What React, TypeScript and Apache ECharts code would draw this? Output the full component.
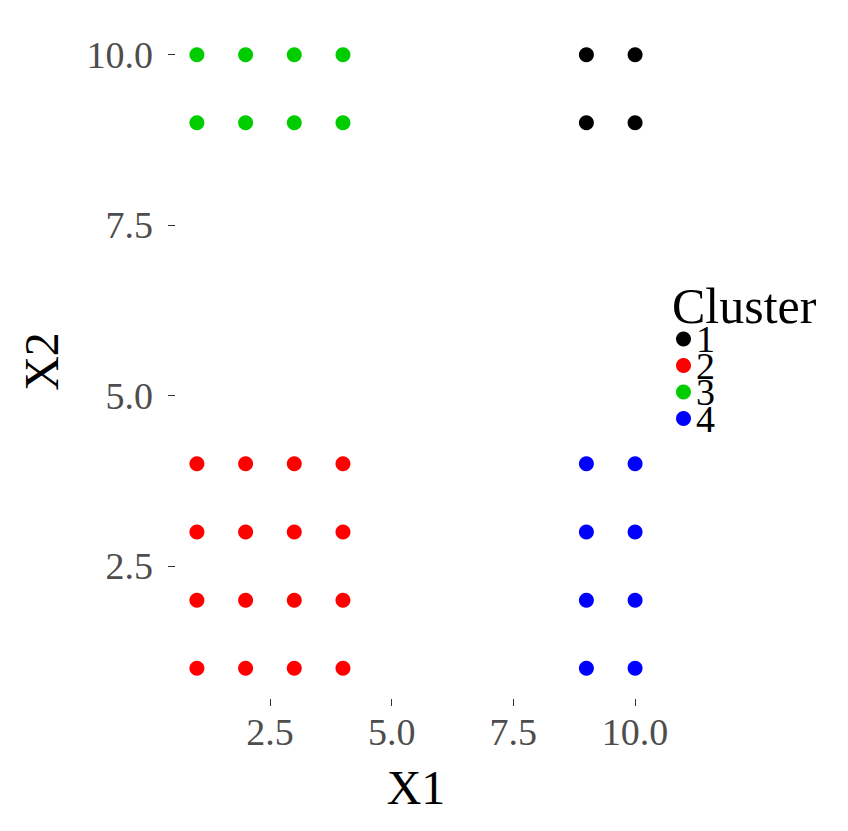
import React, { useEffect, useRef } from "react";
import * as echarts from "echarts";

const clusterNames = ["1", "2", "3", "4"];
const clusterColors = ["#000000", "#ff0000", "#00cd00", "#0000ff"];
const cluster1: number[][] = [[9, 9], [9, 10], [10, 9], [10, 10]];
const cluster2: number[][] = [
  [1, 1], [2, 1], [3, 1], [4, 1],
  [1, 2], [2, 2], [3, 2], [4, 2],
  [1, 3], [2, 3], [3, 3], [4, 3],
  [1, 4], [2, 4], [3, 4], [4, 4],
];
const cluster3: number[][] = [
  [1, 9], [2, 9], [3, 9], [4, 9],
  [1, 10], [2, 10], [3, 10], [4, 10],
];
const cluster4: number[][] = [
  [9, 1], [10, 1], [9, 2], [10, 2],
  [9, 3], [10, 3], [9, 4], [10, 4],
];
const clusterData = [cluster1, cluster2, cluster3, cluster4];
const tickValues = [2.5, 5, 7.5, 10];

const FONT = "Liberation Serif";

export default function App() {
  const ref = useRef<HTMLDivElement>(null);
  useEffect(() => {
    if (!ref.current) return;
    const chart = echarts.init(ref.current, undefined, { renderer: "svg" });
    const axisCommon = {
      type: "value" as const,
      min: 0.55,
      max: 10.45,
      axisLine: { show: false },
      splitLine: { show: false },
      axisTick: {
        show: true,
        length: 7,
        customValues: tickValues,
        lineStyle: { color: "#333333", width: 1 },
      },
      nameLocation: "middle" as const,
      nameTextStyle: { fontFamily: FONT, fontSize: 48, color: "#000000" },
    };
    chart.setOption({
      animation: false,
      backgroundColor: "#ffffff",
      grid: { left: 175, right: 191, top: 24, bottom: 132 },
      title: {
        text: "Cluster",
        left: 672,
        top: 281,
        padding: 0,
        textStyle: { fontFamily: FONT, fontSize: 50, fontWeight: "normal", color: "#000000" },
      },
      legend: {
        orient: "vertical",
        left: 676,
        top: 320,
        padding: 0,
        itemGap: -11.5,
        itemWidth: 15,
        itemHeight: 15,
        icon: "circle",
        data: clusterNames,
        textStyle: { fontFamily: FONT, fontSize: 38, color: "#000000" },
      },
      xAxis: {
        ...axisCommon,
        name: "X1",
        nameGap: 64,
        axisLabel: {
          customValues: tickValues,
          fontFamily: FONT,
          fontSize: 38,
          color: "#4d4d4d",
          margin: 14,
          formatter: (v: number) => v.toFixed(1),
        },
      },
      yAxis: {
        ...axisCommon,
        name: "X2",
        nameGap: 110,
        nameRotate: 90,
        axisLabel: {
          customValues: tickValues,
          fontFamily: FONT,
          fontSize: 38,
          color: "#4d4d4d",
          margin: 22,
          formatter: (v: number) => v.toFixed(1),
        },
      },
      series: clusterNames.map((n, i) => ({
        name: n,
        type: "scatter",
        symbol: "circle",
        symbolSize: 15,
        itemStyle: { color: clusterColors[i], opacity: 1 },
        data: clusterData[i],
      })),
    });
    return () => chart.dispose();
  }, []);
  return <div ref={ref} style={{ position: "fixed", left: 0, top: 0, width: 848, height: 831 }} />;
}
